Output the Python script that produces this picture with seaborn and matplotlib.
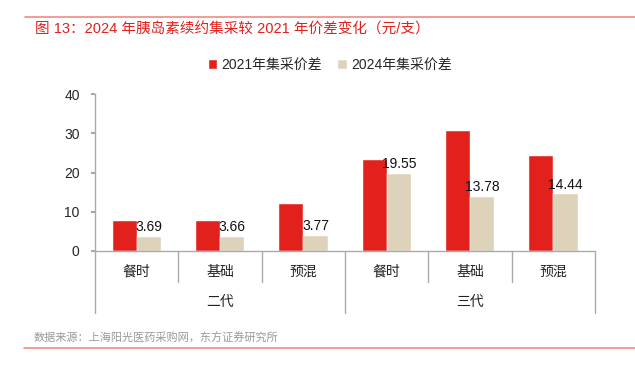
"""2024 年胰岛素续约集采较 2021 年价差变化"""

import matplotlib
matplotlib.use("Agg")
import matplotlib.pyplot as plt
import matplotlib.transforms as mtransforms
import seaborn as sns
import pandas as pd

# 数据
groups = ["二代", "二代", "二代", "三代", "三代", "三代"]
types = ["餐时", "基础", "预混", "餐时", "基础", "预混"]
diff_2021 = [7.6, 7.6, 12.0, 23.2, 30.5, 24.2]
diff_2024 = [3.69, 3.66, 3.77, 19.55, 13.78, 14.44]
series = ["2021年集采价差", "2024年集采价差"]
yticks = [0, 10, 20, 30, 40]

RED = "#E2211C"
BEIGE = "#DDD3BB"

sns.set_theme(style="white")
plt.rcParams["font.family"] = ["Liberation Sans", "Noto Sans CJK SC", "DejaVu Sans"]

keys = [f"{g}-{t}" for g, t in zip(groups, types)]
df = pd.DataFrame({
    "key": keys * 2,
    "value": diff_2021 + diff_2024,
    "series": [series[0]] * len(keys) + [series[1]] * len(keys),
})

fig = plt.figure(figsize=(6.35, 3.67), dpi=100)
ax = fig.add_axes([95 / 635, 1 - 251 / 367, 500 / 635, 157 / 367])

sns.barplot(data=df, x="key", y="value", hue="series", order=keys,
            palette=[RED, BEIGE], width=0.58, saturation=1, ax=ax,
            edgecolor="white", linewidth=0.3)

ax.set_ylim(0, 40)
ax.set_yticks(yticks)
ax.set_xlim(-0.5, len(keys) - 0.5)
ax.set_xlabel("")
ax.set_ylabel("")
ax.tick_params(axis="y", labelsize=10, length=3, color="#999999", pad=8,
               left=True)
ax.tick_params(axis="x", length=0, labelbottom=False)
for s in ["top", "right"]:
    ax.spines[s].set_visible(False)
for s in ["left", "bottom"]:
    ax.spines[s].set_color("#AAAAAA")
    ax.spines[s].set_linewidth(1)

# 2024 数值标签
ax.bar_label(ax.containers[1], labels=[f"{v:.2f}" for v in diff_2024],
             padding=2, fontsize=10, color="#111111")

# 多级横轴
trans = mtransforms.blended_transform_factory(ax.transData, ax.transAxes)
for i, t in enumerate(types):
    ax.text(i, -0.132, t, transform=trans, ha="center", va="center",
            fontsize=10, color="#222222")
for i in range(len(keys) + 1):
    x = i - 0.5
    bottom = -0.393 if i in (0, 3, 6) else -0.196
    ax.plot([x, x], [0, bottom], transform=trans, color="#AAAAAA",
            lw=1, clip_on=False)
for g, c in zip(["二代", "三代"], [1, 4]):
    ax.text(c, -0.325, g, transform=trans, ha="center", va="center",
            fontsize=10, color="#222222")

# 图例
handles, labels = ax.get_legend_handles_labels()
ax.get_legend().remove()
fig.legend(handles, labels, loc="center", bbox_to_anchor=(0.52, 1 - 65 / 367),
           ncol=2, frameon=False, fontsize=10, handlelength=0.6,
           handleheight=0.6, handletextpad=0.3, columnspacing=1.2)

# 标题与来源
fig.add_artist(plt.Line2D([25 / 635, 1], [1 - 17.3 / 367] * 2, color="#F08A84",
                          lw=1.2))
fig.text(35 / 635, 1 - 29.5 / 367, "图 13：2024 年胰岛素续约集采较 2021 年价差变化（元/支）",
         color="#E0201C", fontsize=10.5, va="center", ha="left")
fig.text(34 / 635, 1 - 338 / 367, "数据来源：上海阳光医药采购网，东方证券研究所",
         color="#999999", fontsize=8, va="center", ha="left")
fig.add_artist(plt.Line2D([24 / 635, 1], [1 - 347.5 / 367] * 2, color="#F08A84",
                          lw=1.2))

fig.savefig("out.png", dpi=100)
